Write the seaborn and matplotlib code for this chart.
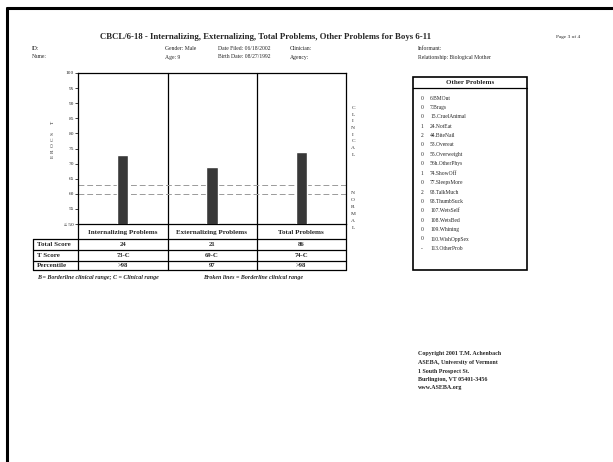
import matplotlib
matplotlib.use("Agg")
import matplotlib.pyplot as plt
import pandas as pd
import seaborn as sns
from matplotlib.patches import Rectangle

# chart values
scales = ["Internalizing Problems", "Externalizing Problems", "Total Problems"]
t_scores = [73, 69, 74]
total_scores = ["24", "21", "86"]
t_labels = ["73-C", "69-C", "74-C"]
percentiles = [">98", "97", ">98"]
borderline = [60, 63]
y_ticks = [50, 55, 60, 65, 70, 75, 80, 85, 90, 95, 100]
y_tick_labels = ["\u2264 50", "55", "60", "65", "70", "75", "80", "85", "90", "95", "100"]

other_scores = ["0", "0", "0", "1", "2", "0", "0", "0", "1", "0", "2", "0", "0", "0", "0", "0", "-"]
other_items = ["6.BMOut", "7.Brags", "15.CruelAnimal", "24.NotEat", "44.BiteNail", "53.Overeat",
               "55.Overweight", "56h.OtherPhys", "74.ShowOff", "77.SleepsMore", "93.TalkMuch",
               "98.ThumbSuck", "107.WetsSelf", "108.WetsBed", "109.Whining", "110.WishOppSex",
               "113.OtherProb"]

sns.set_style("white")
plt.rcParams['font.family'] = ['Liberation Serif', 'DejaVu Serif']

W, H = 613, 462
fig = plt.figure(figsize=(W / 100, H / 100), dpi=100)
fig.patch.set_facecolor("white")

# page axes in pixel coordinates for the form layout
pg = fig.add_axes([0, 0, 1, 1])
pg.set_xlim(0, W)
pg.set_ylim(H, 0)
pg.axis("off")

# page border (scan edge)
pg.plot([7, W], [8, 8], color="black", lw=2.2)
pg.plot([7, 7], [8, H], color="black", lw=2.2)

# header
pg.text(266, 37, "CBCL/6-18 - Internalizing, Externalizing, Total Problems, Other Problems for Boys 6-11",
        ha="center", va="center", fontsize=6.3, fontweight="bold")
pg.text(556, 37, "Page 3 of 4", ha="left", va="center", fontsize=3.8)
hdr = [(32, "ID:", "Name:"), (165, "Gender: Male", "Age: 9"),
       (218, "Date Filed: 06/18/2002", "Birth Date: 08/27/1992"),
       (290, "Clinician:", "Agency:"), (418, "Informant:", "Relationship: Biological Mother")]
for x, a, b in hdr:
    pg.text(x, 49, a, ha="left", va="center", fontsize=4.1)
    pg.text(x, 57, b, ha="left", va="center", fontsize=4.1)

# chart
ax = fig.add_axes([78 / W, 1 - 224 / H, (346 - 78) / W, (224 - 73) / H])
df = pd.DataFrame({"scale": scales, "t": t_scores})
sns.barplot(data=df, x="scale", y="t", order=scales, color="#383838", width=0.13,
            saturation=1, ax=ax, zorder=3)
ax.set_ylim(50, 100)
ax.set_xlim(-0.5, len(scales) - 0.5)
for b in borderline:
    ax.axhline(b, color="#9a9a9a", lw=0.7, ls=(0, (6, 3)), zorder=2)
ax.set_yticks(y_ticks)
ax.set_yticklabels(y_tick_labels, fontsize=3.9)
ax.tick_params(axis="y", length=2, width=0.6, pad=1, left=True)
ax.tick_params(axis="x", length=0, pad=4)
ax.set_xticks(range(len(scales)))
ax.set_xticklabels(scales, fontsize=5, fontweight="bold")
ax.set_xlabel("")
ax.set_ylabel("")
for s in ax.spines.values():
    s.set_visible(True)
    s.set_color("black")
    s.set_linewidth(0.9)
ax.set_facecolor("none")

# column dividers and table grid
for x in [168, 257]:
    pg.plot([x, x], [73, 270], color="black", lw=0.9)
for x in [78, 346]:
    pg.plot([x, x], [224, 270], color="black", lw=0.9)
pg.plot([33, 33], [239, 270], color="black", lw=0.9)
for y in [239, 250, 261, 270]:
    pg.plot([33, 346], [y, y], color="black", lw=0.9)

col_x = [123, 212, 301]
rows = [("Total Score", total_scores, 244.5), ("T Score", t_labels, 255.5), ("Percentile", percentiles, 265.5)]
for lab, vals, y in rows:
    pg.text(37, y, lab, ha="left", va="center", fontsize=5, fontweight="bold")
    for x, v in zip(col_x, vals):
        pg.text(x, y, v, ha="center", va="center", fontsize=4.8, fontweight="bold")

pg.text(37, 277, "B = Borderline clinical range; C = Clinical range", ha="left", va="center",
        fontsize=4.3, fontweight="bold", style="italic")
pg.text(203, 277, "Broken lines = Borderline clinical range", ha="left", va="center",
        fontsize=4.3, fontweight="bold", style="italic")

# vertical stacked labels
for i, ch in enumerate("T SCORE"):
    if ch != " ":
        pg.text(53, 122 + i * 5.8, ch, ha="center", va="center", fontsize=3.8, rotation=90)
for i, ch in enumerate("CLINICAL"):
    pg.text(353, 108 + i * 6.7, ch, ha="center", va="center", fontsize=3.9)
for i, ch in enumerate("NORMAL"):
    pg.text(353, 193 + i * 7, ch, ha="center", va="center", fontsize=3.9)

# Other Problems box
pg.add_patch(Rectangle((413, 77), 114, 193, fill=False, ec="black", lw=1.2))
pg.plot([413, 527], [88, 88], color="black", lw=0.9)
pg.text(470, 82.5, "Other Problems", ha="center", va="center", fontsize=5, fontweight="bold")
for i, (sc, it) in enumerate(zip(other_scores, other_items)):
    y = 98 + i * 9.4
    pg.text(422, y, sc, ha="center", va="center", fontsize=4)
    pg.text(430, y, it, ha="left", va="center", fontsize=4)

copy_lines = ["Copyright 2001 T.M. Achenbach", "ASEBA, University of Vermont", "1 South Prospect St.",
              "Burlington, VT 05401-3456", "www.ASEBA.org"]
for i, line in enumerate(copy_lines):
    pg.text(418, 354 + i * 8.5, line, ha="left", va="center", fontsize=4.3, fontweight="bold")

fig.savefig("out.png", dpi=100, facecolor="white")
